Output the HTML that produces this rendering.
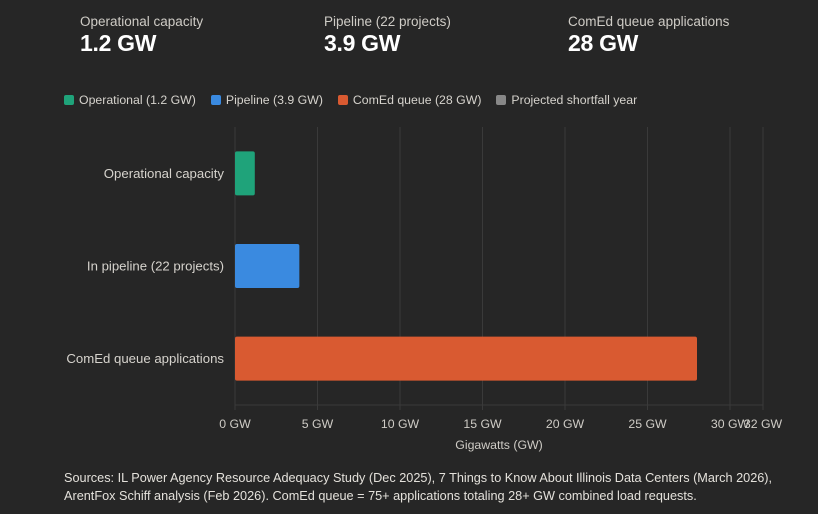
<!DOCTYPE html>
<html><head><meta charset="utf-8"><style>
body{margin:0;width:818px;height:514px;background:#262626;font-family:"Liberation Sans",sans-serif;color:#d6d3cd;overflow:hidden;position:relative}
.kpi{position:absolute;top:14px}
.kpi .l{font-size:13.5px;color:#cfccc6}
.kpi .v{font-size:23px;font-weight:bold;color:#fff;margin-top:1px;letter-spacing:-0.3px}
.legend{position:absolute;top:93px;left:64px;font-size:12.3px;display:flex;gap:15px}
.legend span.sw{display:inline-block;width:10px;height:10px;border-radius:2px;margin-right:5px;vertical-align:-1px}
.src{position:absolute;left:64px;top:469px;font-size:12.7px;line-height:18px;color:#e4e1db;white-space:nowrap}
svg{position:absolute;left:0;top:0}
</style></head><body>
<div class="kpi" style="left:80px"><div class="l">Operational capacity</div><div class="v">1.2 GW</div></div>
<div class="kpi" style="left:324px"><div class="l">Pipeline (22 projects)</div><div class="v">3.9 GW</div></div>
<div class="kpi" style="left:568px"><div class="l">ComEd queue applications</div><div class="v">28 GW</div></div>
<div class="legend">
<div><span class="sw" style="background:#1fa37a"></span>Operational (1.2 GW)</div>
<div><span class="sw" style="background:#3a8ae0"></span>Pipeline (3.9 GW)</div>
<div><span class="sw" style="background:#d95a31"></span>ComEd queue (28 GW)</div>
<div><span class="sw" style="background:#888"></span>Projected shortfall year</div>
</div>
<svg id="chart" width="818" height="514"></svg>
<div class="src">Sources: IL Power Agency Resource Adequacy Study (Dec 2025), 7 Things to Know About Illinois Data Centers (March 2026),<br>ArentFox Schiff analysis (Feb 2026). ComEd queue = 75+ applications totaling 28+ GW combined load requests.</div>
<script>
const categories=["Operational capacity","In pipeline (22 projects)","ComEd queue applications"];
const values=[1.2,3.9,28];
const colors=["#1fa37a","#3a8ae0","#d95a31"];
const ticks=[0,5,10,15,20,25,30,32];
const x0=235,x1=763,xmax=32,yTop=127,yBot=405;
const x=v=>x0+(x1-x0)*v/xmax;
const band=(yBot-yTop)/categories.length;
const svg=document.getElementById('chart');
const NS="http://www.w3.org/2000/svg";
function mk(t,a){const e=document.createElementNS(NS,t);for(const k in a)e.setAttribute(k,a[k]);svg.appendChild(e);return e;}
ticks.forEach(t=>{
 const g=mk('line',{x1:x(t),x2:x(t),y1:yTop,y2:yBot+5,stroke:'#3a3a3a','stroke-width':1});
 
 
 const tx=mk('text',{x:x(t),y:yBot+23,'text-anchor':'middle','font-size':12.3,fill:'#cfccc6'});
 tx.textContent=t+' GW';
 
 
});
const ax=mk('line',{x1:x0,x2:x1,y1:yBot,y2:yBot,stroke:'#3a3a3a'});


const at=mk('text',{x:(x0+x1)/2,y:yBot+44,'text-anchor':'middle','font-size':12.3,fill:'#cfccc6'});
at.textContent='Gigawatts (GW)';


categories.forEach((c,i)=>{
 const cy=yTop+band*(i+0.5),h=band*0.475;
 const r=mk('rect',{x:x0,y:cy-h/2,width:x(values[i])-x0,height:h,rx:2,fill:colors[i]});
 
 
 const l=mk('text',{x:224,y:cy+4.5,'text-anchor':'end','font-size':13.2,fill:'#d6d3cd'});
 l.textContent=c;
 
 
});
</script>
</body></html>
